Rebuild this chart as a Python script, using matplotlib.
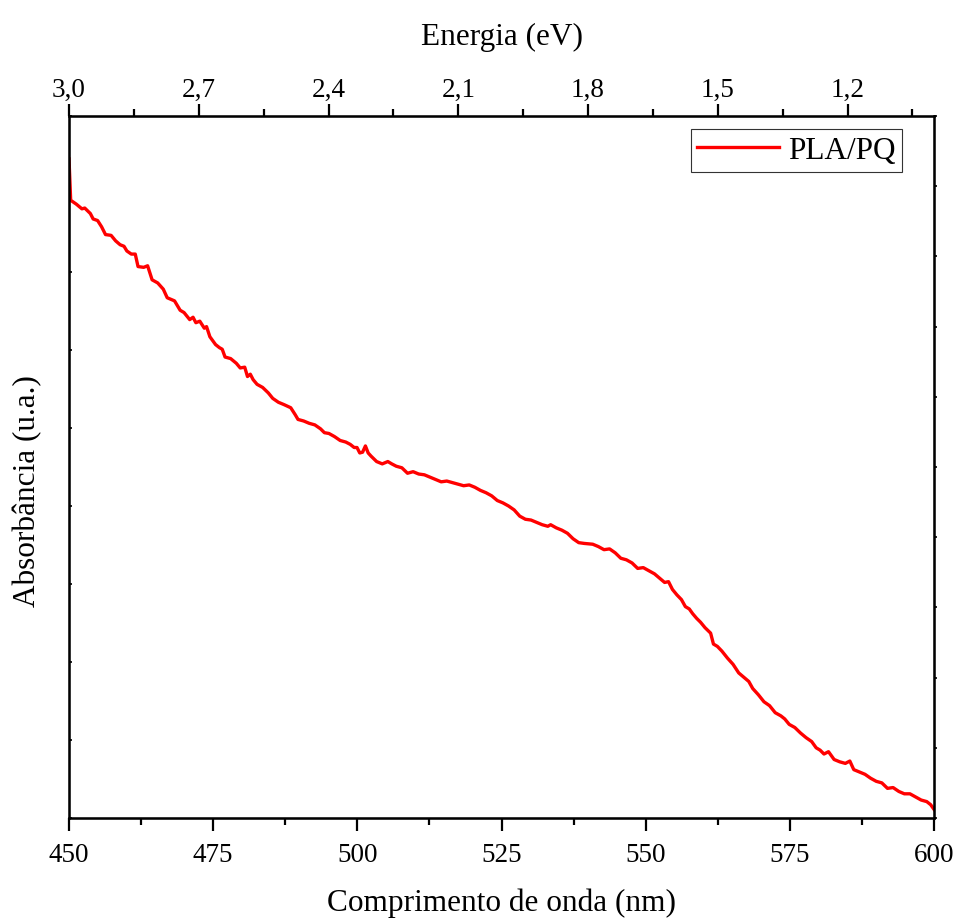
import matplotlib
matplotlib.use('Agg')
import matplotlib.pyplot as plt
from matplotlib.ticker import MultipleLocator, FixedLocator

plt.rcParams['font.family'] = ['Liberation Serif', 'DejaVu Serif']

# comprimento de onda (nm) e absorbancia (u.a.)
comprimento = [450.00, 450.29, 451.27, 452.24, 452.73, 453.70, 454.19, 454.96, 455.65, 456.33,
               457.30, 458.08, 458.86, 459.54, 460.03, 460.80, 461.49, 461.97, 462.95, 463.63,
               464.41, 465.38, 466.35, 467.03, 468.30, 469.27, 469.95, 470.93, 471.51, 472.00,
               472.68, 473.46, 473.85, 474.43, 475.41, 476.09, 476.57, 477.06, 478.03, 479.01,
               479.69, 480.47, 480.95, 481.44, 481.93, 482.61, 483.58, 484.56, 485.33, 486.31,
               487.28, 488.45, 489.23, 489.71, 490.69, 491.66, 492.63, 493.61, 494.29, 495.07,
               496.04, 497.02, 497.99, 498.77, 499.45, 499.94, 500.42, 500.91, 501.40, 501.88,
               502.37, 503.34, 504.32, 505.29, 505.97, 506.75, 507.72, 508.70, 509.67, 510.64,
               511.62, 512.59, 513.56, 514.54, 515.51, 516.48, 517.46, 518.43, 519.40, 520.38,
               521.35, 522.32, 523.30, 524.27, 525.24, 526.22, 527.19, 528.16, 529.14, 530.11,
               531.08, 532.06, 533.03, 533.52, 534.49, 535.47, 536.44, 537.41, 538.39, 539.36,
               540.82, 541.79, 542.77, 543.74, 544.71, 545.69, 546.66, 547.63, 548.61, 549.58,
               550.55, 551.53, 552.50, 553.28, 553.96, 554.64, 555.42, 556.20, 556.88, 557.56,
               558.14, 558.83, 559.51, 560.29, 561.26, 561.75, 562.43, 563.21, 564.18, 565.15,
               566.13, 567.10, 567.88, 568.56, 569.54, 570.51, 571.48, 572.46, 573.43, 574.11,
               574.89, 575.86, 576.84, 577.81, 578.78, 579.56, 580.24, 580.92, 581.70, 582.67,
               583.65, 584.62, 585.40, 586.08, 587.06, 588.03, 589.00, 589.98, 590.95, 591.93,
               592.90, 593.90, 594.85, 595.82, 596.80, 597.77, 598.74, 599.42, 600.00]
absorbancia = [0.845, 0.792, 0.787, 0.781, 0.782, 0.775, 0.768, 0.766, 0.758, 0.748,
               0.747, 0.740, 0.735, 0.733, 0.727, 0.723, 0.723, 0.707, 0.706, 0.708,
               0.690, 0.686, 0.678, 0.667, 0.663, 0.651, 0.648, 0.639, 0.642, 0.635,
               0.637, 0.628, 0.630, 0.617, 0.607, 0.603, 0.601, 0.591, 0.589, 0.583,
               0.577, 0.578, 0.566, 0.569, 0.562, 0.556, 0.552, 0.545, 0.538, 0.533,
               0.530, 0.526, 0.517, 0.511, 0.509, 0.506, 0.504, 0.499, 0.494, 0.493,
               0.489, 0.484, 0.482, 0.479, 0.475, 0.475, 0.468, 0.469, 0.477, 0.468,
               0.464, 0.457, 0.454, 0.457, 0.454, 0.451, 0.449, 0.442, 0.444, 0.441,
               0.440, 0.437, 0.434, 0.431, 0.432, 0.430, 0.428, 0.426, 0.427, 0.424,
               0.420, 0.417, 0.413, 0.407, 0.404, 0.400, 0.395, 0.387, 0.383, 0.382,
               0.379, 0.376, 0.374, 0.376, 0.372, 0.369, 0.365, 0.358, 0.353, 0.352,
               0.351, 0.348, 0.344, 0.345, 0.340, 0.333, 0.331, 0.327, 0.320, 0.321,
               0.317, 0.313, 0.307, 0.302, 0.303, 0.293, 0.286, 0.280, 0.271, 0.268,
               0.262, 0.256, 0.251, 0.244, 0.237, 0.223, 0.220, 0.214, 0.205, 0.197,
               0.186, 0.180, 0.175, 0.166, 0.158, 0.149, 0.144, 0.135, 0.131, 0.127,
               0.120, 0.116, 0.109, 0.103, 0.098, 0.090, 0.087, 0.082, 0.085, 0.075,
               0.072, 0.070, 0.073, 0.062, 0.059, 0.056, 0.051, 0.047, 0.045, 0.038,
               0.039, 0.034, 0.031, 0.031, 0.027, 0.023, 0.021, 0.017, 0.011]

ticks_nm = [450, 475, 500, 525, 550, 575, 600]
ticks_ev = [3.0, 2.7, 2.4, 2.1, 1.8, 1.5, 1.2]
rotulos_ev = ['3,0', '2,7', '2,4', '2,1', '1,8', '1,5', '1,2']

fig = plt.figure(figsize=(9.57, 9.2), dpi=100)
ax = fig.add_axes([0.0721, 0.1098, 0.9039, 0.7630])

ax.plot(comprimento, absorbancia, color='#ff0000', lw=2.4, label='PLA/PQ')
ax.set_xlim(450, 600)
ax.set_ylim(0, 0.9)

ax.set_xticks(ticks_nm)
ax.xaxis.set_minor_locator(MultipleLocator(12.5))
ax.tick_params(axis='x', which='major', direction='out', length=9, width=1.6,
               labelsize=19.5, pad=8, top=False)
ax.tick_params(axis='x', which='minor', direction='out', length=5, width=1.6, top=False)

# eixo y: sem rotulos, marcas pequenas
ax.yaxis.set_major_locator(MultipleLocator(0.1))
ax.tick_params(axis='y', which='major', direction='in', length=2.5, width=1.2,
               left=True, right=False, labelleft=False)
for s in ax.spines.values():
    s.set_linewidth(1.8)

ax.set_xlabel('Comprimento de onda (nm)', fontsize=22.5, labelpad=15)
ax.set_ylabel('Absorbância (u.a.)', fontsize=22.5)
ax.yaxis.set_label_coords(-0.031, 0.467)

# marcas do lado direito
axd = ax.twinx()
axd.set_ylim(0, 0.9)
axd.yaxis.set_major_locator(MultipleLocator(0.09))
axd.tick_params(axis='y', direction='out', length=2.5, width=1.2, labelright=False)

# eixo de energia (superior)
axe = ax.twiny()
axe.set_xlim(3.0, 1.0)
axe.xaxis.set_major_locator(FixedLocator(ticks_ev))
axe.set_xticklabels(rotulos_ev)
axe.xaxis.set_minor_locator(FixedLocator([2.85, 2.55, 2.25, 1.95, 1.65, 1.35, 1.05]))
axe.tick_params(axis='x', which='major', direction='out', length=9, width=1.6,
                labelsize=19.5, pad=1)
axe.tick_params(axis='x', which='minor', direction='out', length=5, width=1.6)
axe.set_xlabel('Energia (eV)', fontsize=22.5, labelpad=24)

leg = ax.legend(loc='upper right', bbox_to_anchor=(0.9635, 0.9815), fontsize=22.5,
                frameon=True, fancybox=False, edgecolor='#333333', framealpha=1,
                handlelength=2.6, handletextpad=0.3, borderpad=0.22, borderaxespad=0)
leg.get_frame().set_linewidth(0.8)

fig.savefig('out.png', dpi=100)
